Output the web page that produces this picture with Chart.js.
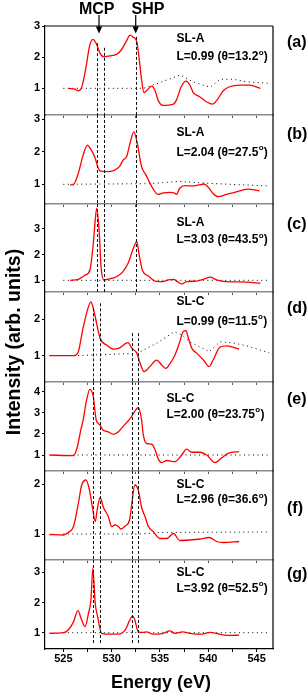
<!DOCTYPE html>
<html><head><meta charset="utf-8">
<script src="https://cdn.jsdelivr.net/npm/chart.js@4.4.0/dist/chart.umd.min.js"></script>
<style>
html,body{margin:0;padding:0;background:#fff;}
#wrap{position:relative;width:308px;height:693px;overflow:hidden;background:#fff;}
#wrap canvas{position:absolute;left:0;top:0;}
</style></head><body><div id="wrap"></div>
<script>
// ---------------- DATA ----------------
const X_TICKS = [525, 527.5, 530, 532.5, 535, 537.5, 540, 542.5, 545];
const X_LABELS = [525, 530, 535, 540, 545];
const Y_TICKS = [[1,2,3],[1,2,3],[1,2,3],[1,2],[1,2,3,4],[1,2],[1,2,3]];
const PANEL_LABELS = ['(a)','(b)','(c)','(d)','(e)','(f)','(g)'];
const SAMPLES = ['SL-A','SL-A','SL-A','SL-C','SL-C','SL-C','SL-C'];
const L_VALUES = ['0.99','2.04','3.03','0.99','2.00','2.96','3.92'];
const THETAS = ['13.2','27.5','43.5','11.5','23.75','36.6','52.5'];
const MARKERS = ['MCP','SHP'];
const MARKER_ENERGY = [528.69, 532.49];
const VLINES_UPPER = [528.52, 529.18, 532.55];
const VLINES_LOWER = [528.10, 528.80, 532.11, 532.76];

const energyA = [525.5,526.2,526.55,526.9,527.35,527.7,528.04,528.4,528.8,529.2,529.8,530.5,531.0,531.5,531.9,532.24,532.6,532.86,533.1,533.35,533.6,534.15,534.5,534.8,535.3,536.4,536.7,537.2,537.7,538.1,538.45,539.1,539.8,540.45,540.9,541.55,542.2,543.3,544.3,545.4];
const intensityA = [1.0,0.97,0.92,1.03,1.69,2.34,2.57,2.44,2.12,2.01,2.04,2.09,2.23,2.5,2.71,2.64,2.5,1.91,1.27,0.86,0.92,1.07,0.92,0.62,0.45,0.49,0.62,1.05,1.23,1.1,0.86,0.73,0.57,0.49,0.62,0.92,1.05,1.1,1.1,1.0];
const refEnergyA = [525.0,533.3,534.8,537.1,538.4,540.2,541.2,542.6,543.9,546.3];
const refA = [1.0,1.0,1.16,1.43,1.21,1.03,1.29,1.29,1.21,1.16];

const energyB = [525.7,526.0,526.55,527.0,527.5,527.85,528.3,528.5,528.8,529.5,530.2,530.8,531.2,531.55,531.9,532.3,532.65,533.1,533.55,534.15,534.8,535.35,536.0,536.45,536.7,537.05,537.6,538.3,539.0,539.55,540.0,540.5,541.0,541.9,542.9,544.1,545.3];
const intensityB = [0.98,0.98,1.34,1.85,2.2,2.07,1.8,1.59,1.41,1.39,1.42,1.54,1.75,1.85,2.26,2.61,2.26,1.54,1.29,0.93,0.69,0.74,0.75,0.74,0.69,0.88,0.96,0.95,0.98,1.01,0.91,0.72,0.62,0.69,0.77,0.85,0.8];
const refEnergyB = [525.0,534.0,537.0,540.0,543.0,546.3];
const refB = [1.0,1.02,1.09,1.03,0.99,0.95];

const energyC = [525.7,526.55,527.25,527.75,528.1,528.3,528.45,528.7,528.9,529.2,529.8,530.5,531.15,531.7,532.25,532.6,532.85,533.2,533.8,534.5,535.35,535.85,536.4,536.8,537.25,537.75,538.8,539.5,540.2,540.85,541.9,543.95,545.4];
const intensityC = [1.0,1.04,1.2,1.4,2.43,3.34,3.79,2.95,1.53,1.01,1.06,1.14,1.33,1.66,2.24,2.5,1.98,1.37,1.17,0.97,0.95,1.02,1.04,0.95,0.86,0.95,0.97,1.04,1.12,1.02,0.95,0.93,0.88];
const refEnergyC = [525.0,546.3];
const refC = [1.0,1.0];

const energyD = [523.55,526.05,526.55,527.0,527.5,527.85,528.1,528.3,528.8,529.5,530.2,530.7,531.7,532.1,532.6,532.95,533.35,533.95,534.65,535.2,535.6,536.05,536.55,537.05,537.4,537.7,537.9,538.3,538.8,539.5,540.1,540.5,541.2,541.9,542.6,543.2];
const intensityD = [1.0,1.0,1.11,1.71,2.26,2.48,2.3,2.07,1.48,1.29,1.18,1.2,1.36,1.2,1.07,0.79,0.56,0.7,0.88,0.74,0.65,0.79,1.02,1.38,1.66,1.69,1.52,1.2,1.07,0.88,0.7,0.88,1.23,1.27,1.23,1.18];
const refEnergyD = [526.05,532.2,532.95,534.65,536.5,537.3,538.1,540.1,541.2,542.6,544.0,546.3];
const refD = [1.0,1.06,1.11,1.34,1.66,1.56,1.38,1.11,1.38,1.35,1.27,1.08];

const energyE = [523.55,526.05,526.45,526.8,527.05,527.4,527.75,528.1,528.4,528.8,529.1,529.65,530.2,530.7,531.2,531.7,532.05,532.75,533.1,533.25,533.6,534.15,534.5,534.8,535.2,535.7,536.55,537.25,537.75,538.3,539.15,539.85,540.7,541.4,542.05,543.2];
const intensityE = [1.0,0.97,1.39,2.18,2.66,3.6,4.11,3.76,2.66,2.42,2.18,2.1,1.98,2.1,2.37,2.61,2.82,3.24,2.66,2.03,1.55,1.51,1.24,0.84,0.64,0.74,0.69,1.0,1.28,1.13,1.13,1.0,0.64,0.87,1.08,1.16];
const refEnergyE = [526.0,546.3];
const refE = [1.0,1.0];

const energyF = [523.55,525.0,525.5,526.05,526.55,526.9,527.35,527.7,528.05,528.3,528.5,528.8,529.15,529.65,530.0,530.35,530.7,530.95,531.4,531.85,532.05,532.4,532.75,533.1,533.45,533.8,534.3,535.0,535.7,536.4,537.05,538.1,539.15,540.1,540.85,541.55,543.2];
const intensityF = [0.99,0.98,1.03,1.15,1.61,1.98,2.08,1.88,1.48,1.25,1.48,1.73,1.53,1.35,1.15,1.18,1.15,1.1,1.16,1.28,1.55,1.98,1.88,1.53,1.35,1.15,1.05,0.91,0.91,1.01,0.87,0.88,0.9,0.93,0.85,0.83,0.85];
const refEnergyF = [525.0,533.0,535.0,546.3];
const refF = [1.0,1.0,1.03,1.04];

const energyG = [523.55,525.0,525.5,526.05,526.5,526.9,527.25,527.6,527.85,528.05,528.3,528.55,528.95,529.8,530.7,531.4,531.85,532.15,532.4,532.75,533.25,533.6,534.3,535.35,536.05,536.55,537.35,538.1,539.15,540.2,541.2,542.25,543.2];
const intensityG = [0.98,1.0,1.09,1.36,1.73,1.42,1.2,1.64,2.08,3.13,1.97,1.53,0.98,0.95,0.95,1.09,1.4,1.56,1.42,1.03,1.01,1.03,0.95,0.98,1.06,0.98,1.03,0.98,0.95,1.01,0.95,0.91,0.92];
const refEnergyG = [525.0,546.3];
const refG = [1.0,1.0];

const ENERGIES = [energyA,energyB,energyC,energyD,energyE,energyF,energyG];
const INTENSITIES = [intensityA,intensityB,intensityC,intensityD,intensityE,intensityF,intensityG];
const REF_ENERGIES = [refEnergyA,refEnergyB,refEnergyC,refEnergyD,refEnergyE,refEnergyF,refEnergyG];
const REFS = [refA,refB,refC,refD,refE,refF,refG];

// ---------------- LAYOUT / STYLE ----------------
const W = 308, H = 693, XH = 20;
const X_MIN = 523.1, X_MAX = 546.7;
const P_TOP = [26,115,204,292,382,471,560];
const P_BOT = [115,204,292,382,471,560,649];
const Y_MIN = [0.143,0.396,0.547,0.277,0.242,0.48,0.46];
const Y_MAX = [3.0,3.126,3.957,2.75,4.46,2.26,3.41];
const TXT_X = [176.5,176.5,176.5,176.5,166.5,176.5,176.5];
const TXT_Y1 = [39,132.7,222.7,301.7,398.3,485,572.3];
const TXT_Y2 = [57,152.3,240,321.7,414.3,500,588.3];
const LBL_Y = [43,135,224.3,308.3,400,508.3,575];
const FAM = '"Liberation Sans", Arial, Helvetica, sans-serif';
Chart.defaults.font.family = FAM;

const wrap = document.getElementById('wrap');

function xy(ex, iy){ return ex.map((e,k)=>({x:e, y:iy[k]})); }

function panelPlugin(i){
  return {
    id: 'deco'+i,
    afterDraw(chart){
      const ctx = chart.ctx, ca = chart.chartArea;
      const xs = chart.scales.x, ys = chart.scales.y;
      ctx.save();
      // right frame
      ctx.strokeStyle = '#000'; ctx.lineWidth = 1.2; ctx.setLineDash([]);
      ctx.beginPath(); ctx.moveTo(ca.right, ca.top); ctx.lineTo(ca.right, ca.bottom); ctx.stroke();
      if (i === 0){
        ctx.beginPath(); ctx.moveTo(ca.left, ca.top); ctx.lineTo(ca.right, ca.top); ctx.stroke();
      }
      // dashed vertical lines
      ctx.strokeStyle = '#111'; ctx.lineWidth = 1; ctx.setLineDash([3,2]);
      const drawV = (e, yTop, yBot) => {
        const px = Math.round(xs.getPixelForValue(e)) + 0.5;
        ctx.beginPath(); ctx.moveTo(px, yTop); ctx.lineTo(px, yBot); ctx.stroke();
      };
      if (i <= 2){
        const starts = [2.45, 2.3, 2.65];
        VLINES_UPPER.forEach((e,k)=>{
          const yt = i === 0 ? ys.getPixelForValue(starts[k]) : ca.top;
          drawV(e, yt, ca.bottom);
        });
      } else {
        const starts = [2.3, 2.44, 1.62, 1.62];
        VLINES_LOWER.forEach((e,k)=>{
          const yt = i === 3 ? ys.getPixelForValue(starts[k]) : ca.top;
          const yb = i === 6 ? ys.getPixelForValue(0.66) : ca.bottom;
          drawV(e, yt, yb);
        });
      }
      ctx.setLineDash([]);
      // annotation text
      ctx.fillStyle = '#000';
      ctx.textBaseline = 'middle'; ctx.textAlign = 'left';
      ctx.font = 'bold 12px ' + FAM;
      ctx.fillText(SAMPLES[i], TXT_X[i], TXT_Y1[i]);
      const main = 'L=' + L_VALUES[i] + ' (\u03B8=' + THETAS[i];
      ctx.fillText(main, TXT_X[i], TXT_Y2[i]);
      let wx = TXT_X[i] + ctx.measureText(main).width;
      ctx.font = 'bold 8px ' + FAM;
      ctx.fillText('o', wx + 0.3, TXT_Y2[i] - 4.5);
      wx += ctx.measureText('o').width + 0.6;
      ctx.font = 'bold 12px ' + FAM;
      ctx.fillText(')', wx, TXT_Y2[i]);
      // panel label
      ctx.font = 'bold 16px ' + FAM;
      ctx.fillText(PANEL_LABELS[i], 287, LBL_Y[i]);
      if (i === 0){
        // markers
        ctx.font = 'bold 16px ' + FAM;
        ctx.textAlign = 'center'; ctx.textBaseline = 'alphabetic';
        ctx.fillText(MARKERS[0], 96.7, 13.5);
        ctx.fillText(MARKERS[1], 148, 13.5);
        MARKER_ENERGY.forEach(e=>{
          const px = xs.getPixelForValue(e);
          ctx.lineWidth = 1.2; ctx.strokeStyle = '#000';
          ctx.beginPath(); ctx.moveTo(px, 15); ctx.lineTo(px, 28); ctx.stroke();
          ctx.beginPath(); ctx.moveTo(px-3.2, 26.5); ctx.lineTo(px+3.2, 26.5); ctx.lineTo(px, 33.5); ctx.closePath(); ctx.fill();
        });
      }
      if (i === 6){
        ctx.font = 'bold 18px ' + FAM;
        ctx.textAlign = 'center'; ctx.textBaseline = 'alphabetic';
        ctx.fillText('Energy (eV)', (ca.left + ca.right)/2 + 2, 687.5);
        ctx.save();
        ctx.translate(19.5, 342);
        ctx.rotate(-Math.PI/2);
        ctx.font = 'bold 19.5px ' + FAM;
        ctx.fillText('Intensity (arb. units)', 0, 0);
        ctx.restore();
      }
      ctx.restore();
    }
  };
}

for (let i = 0; i < 7; i++){
  const cv = document.createElement('canvas');
  cv.width = W; cv.height = H;
  cv.style.width = W + 'px'; cv.style.height = H + 'px';
  wrap.appendChild(cv);
  const last = i === 6;
  new Chart(cv, {
    type: 'line',
    data: { datasets: [
      { data: xy(ENERGIES[i], INTENSITIES[i]), borderColor: '#ff0000', borderWidth: 1.3, pointRadius: 0, cubicInterpolationMode: 'monotone', fill: false, order: 0 },
      { data: xy(REF_ENERGIES[i], REFS[i]), borderColor: '#000', borderWidth: 1, borderDash: [1,3.5], pointRadius: 0, tension: 0, fill: false, order: 1 }
    ]},
    options: {
      responsive: false, animation: false, devicePixelRatio: 1,
      layout: { padding: { left: 0, right: W - 273, top: P_TOP[i], bottom: H - P_BOT[i] - XH } },
      plugins: { legend: { display: false }, tooltip: { enabled: false } },
      scales: {
        x: {
          type: 'linear', min: X_MIN, max: X_MAX,
          afterBuildTicks: s => { s.ticks = X_TICKS.map(v => ({ value: v })); },
          afterFit: s => { s.height = XH; s.paddingLeft = 0; s.paddingRight = 0; },
          grid: { drawOnChartArea: false, drawTicks: true, tickLength: 3, color: last ? '#000' : '#555', lineWidth: 1 },
          border: { color: last ? '#000' : '#8a8a8a', width: last ? 1.2 : 1.6 },
          ticks: { display: last, autoSkip: false, maxRotation: 0, padding: 0, color: '#000',
                   font: { size: 11, weight: 'bold', family: FAM },
                   callback: v => X_LABELS.includes(v) ? String(v) : '' }
        },
        y: {
          type: 'linear', min: Y_MIN[i], max: Y_MAX[i],
          afterBuildTicks: s => { s.ticks = Y_TICKS[i].map(v => ({ value: v })); },
          afterFit: s => { s.width = 45; s.paddingTop = 0; s.paddingBottom = 0; },
          grid: { drawOnChartArea: false, drawTicks: true, tickLength: 3, color: '#000' },
          border: { color: '#000', width: 1.2 },
          ticks: { padding: 2, color: '#000', font: { size: 11, weight: 'bold', family: FAM } }
        }
      }
    },
    plugins: [panelPlugin(i)]
  });
}
</script>
</body></html>
